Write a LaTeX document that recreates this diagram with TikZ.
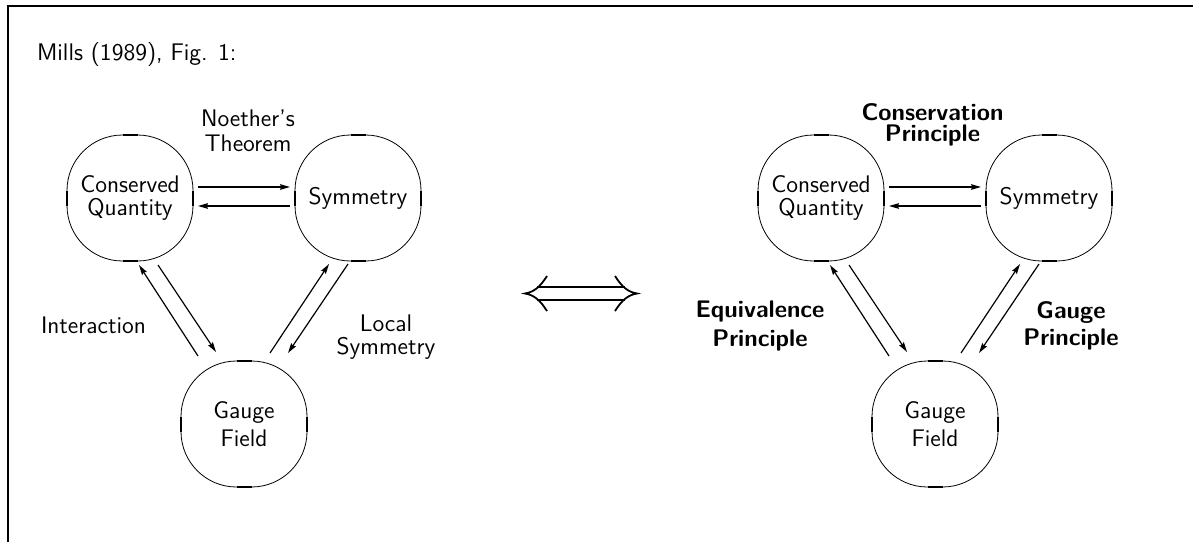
\documentclass[tikz,border=0pt]{standalone}
\usepackage{tikz}
\usetikzlibrary{arrows.meta}

\tikzset{
  lbl/.style={font={\sffamily\fontsize{12}{#1}\selectfont\lineskiplimit-20pt\relax}, align=center},
  blbl/.style={font={\sffamily\bfseries\fontsize{12}{#1}\selectfont\lineskiplimit-20pt\relax}, align=center},
  bubble/.style={draw, line width=0.4pt, rounded corners=27.75pt, minimum width=63pt,
    minimum height=63pt, inner sep=0pt, outer sep=0pt, lbl=#1},
  arr/.style={line width=0.6pt, -{Stealth[length=5pt,width=2.8pt,inset=0.6pt]}},
  flat/.style={line width=1.1pt},
}

\begin{document}
\begin{tikzpicture}[x=0.5pt,y=-0.5pt]
      \useasboundingbox (0,0) rectangle (1193,542);
      \draw[line width=1pt] (8,542) -- (8,6) -- (1193,6);
      \node[lbl=12, anchor=base west] (title) at (30,60) {Mills (1989), Fig. 1:};
      % left figure
      \node[bubble=11.2] (cq)  at (130,198) {Conserved\\Quantity};
      \node[bubble=12]   (sym) at (358,198) {Symmetry};
      \node[bubble=14]   (gf)  at (244,424) {Gauge\\Field};
      \draw[flat] ([xshift=-3.75pt]cq.north) -- ([xshift=3.75pt]cq.north)
                  ([xshift=-3.75pt]cq.south) -- ([xshift=3.75pt]cq.south)
                  ([yshift=-3.75pt]cq.west) -- ([yshift=3.75pt]cq.west)
                  ([yshift=-3.75pt]cq.east) -- ([yshift=3.75pt]cq.east);
      \draw[flat] ([xshift=-3.75pt]sym.north) -- ([xshift=3.75pt]sym.north)
                  ([xshift=-3.75pt]sym.south) -- ([xshift=3.75pt]sym.south)
                  ([yshift=-3.75pt]sym.west) -- ([yshift=3.75pt]sym.west)
                  ([yshift=-3.75pt]sym.east) -- ([yshift=3.75pt]sym.east);
      \draw[flat] ([xshift=-3.75pt]gf.north) -- ([xshift=3.75pt]gf.north)
                  ([xshift=-3.75pt]gf.south) -- ([xshift=3.75pt]gf.south)
                  ([yshift=-3.75pt]gf.west) -- ([yshift=3.75pt]gf.west)
                  ([yshift=-3.75pt]gf.east) -- ([yshift=3.75pt]gf.east);
      \draw[arr] ([shift={(68,-11)}]cq.center) -- ([shift={(-68,-11)}]sym.center);
      \draw[arr] ([shift={(-68,8)}]sym.center) -- ([shift={(68,8)}]cq.center);
      \draw[arr] ([shift={(-46,-68)}]gf.center) -- ([shift={(9,67)}]cq.center);
      \draw[arr] ([shift={(28,67)}]cq.center) -- ([shift={(-28,-72)}]gf.center);
      \draw[arr] ([shift={(26,-71)}]gf.center) -- ([shift={(-29,66)}]sym.center);
      \draw[arr] ([shift={(-10,66)}]sym.center) -- ([shift={(44,-71)}]gf.center);
      \node[lbl=12.2] (noether)  at (248,130.6) {Noether's\\Theorem};
      \node[lbl=12]   (interact) at (93.5,325.5) {Interaction};
      \node[lbl=11.7] (localsym) at (386,337.3) {Local\\Symmetry};
      % equivalence sign
      \draw[line width=0.9pt] (537,287) -- (625,287) (537,300) -- (625,300);
      \draw[line width=0.9pt] (615,276) .. controls (622,287) and (628,292) .. (637,293.5)
                              .. controls (628,295) and (622,300) .. (615,311);
      \draw[line width=0.9pt] (547,276) .. controls (540,287) and (534,292) .. (525,293.5)
                              .. controls (534,295) and (540,300) .. (547,311);
      % right figure
      \node[bubble=11.2] (cq2)  at (821,198) {Conserved\\Quantity};
      \node[bubble=12]   (sym2) at (1049,198) {Symmetry};
      \node[bubble=14]   (gf2)  at (935,424) {Gauge\\Field};
      \draw[flat] ([xshift=-3.75pt]cq2.north) -- ([xshift=3.75pt]cq2.north)
                  ([xshift=-3.75pt]cq2.south) -- ([xshift=3.75pt]cq2.south)
                  ([yshift=-3.75pt]cq2.west) -- ([yshift=3.75pt]cq2.west)
                  ([yshift=-3.75pt]cq2.east) -- ([yshift=3.75pt]cq2.east);
      \draw[flat] ([xshift=-3.75pt]sym2.north) -- ([xshift=3.75pt]sym2.north)
                  ([xshift=-3.75pt]sym2.south) -- ([xshift=3.75pt]sym2.south)
                  ([yshift=-3.75pt]sym2.west) -- ([yshift=3.75pt]sym2.west)
                  ([yshift=-3.75pt]sym2.east) -- ([yshift=3.75pt]sym2.east);
      \draw[flat] ([xshift=-3.75pt]gf2.north) -- ([xshift=3.75pt]gf2.north)
                  ([xshift=-3.75pt]gf2.south) -- ([xshift=3.75pt]gf2.south)
                  ([yshift=-3.75pt]gf2.west) -- ([yshift=3.75pt]gf2.west)
                  ([yshift=-3.75pt]gf2.east) -- ([yshift=3.75pt]gf2.east);
      \draw[arr] ([shift={(68,-11)}]cq2.center) -- ([shift={(-68,-11)}]sym2.center);
      \draw[arr] ([shift={(-68,8)}]sym2.center) -- ([shift={(68,8)}]cq2.center);
      \draw[arr] ([shift={(-46,-68)}]gf2.center) -- ([shift={(9,67)}]cq2.center);
      \draw[arr] ([shift={(28,67)}]cq2.center) -- ([shift={(-28,-72)}]gf2.center);
      \draw[arr] ([shift={(26,-71)}]gf2.center) -- ([shift={(-29,66)}]sym2.center);
      \draw[arr] ([shift={(-10,66)}]sym2.center) -- ([shift={(44,-71)}]gf2.center);
      \node[blbl=10.8] (conserv) at (932.5,124.8) {Conservation\\Principle};
      \node[blbl=14.5] (equiv)   at (760,326) {Equivalence\\Principle};
      \node[blbl=13.8] (gaugep)  at (1071,325.7) {Gauge\\Principle};
\end{tikzpicture}
\end{document}
